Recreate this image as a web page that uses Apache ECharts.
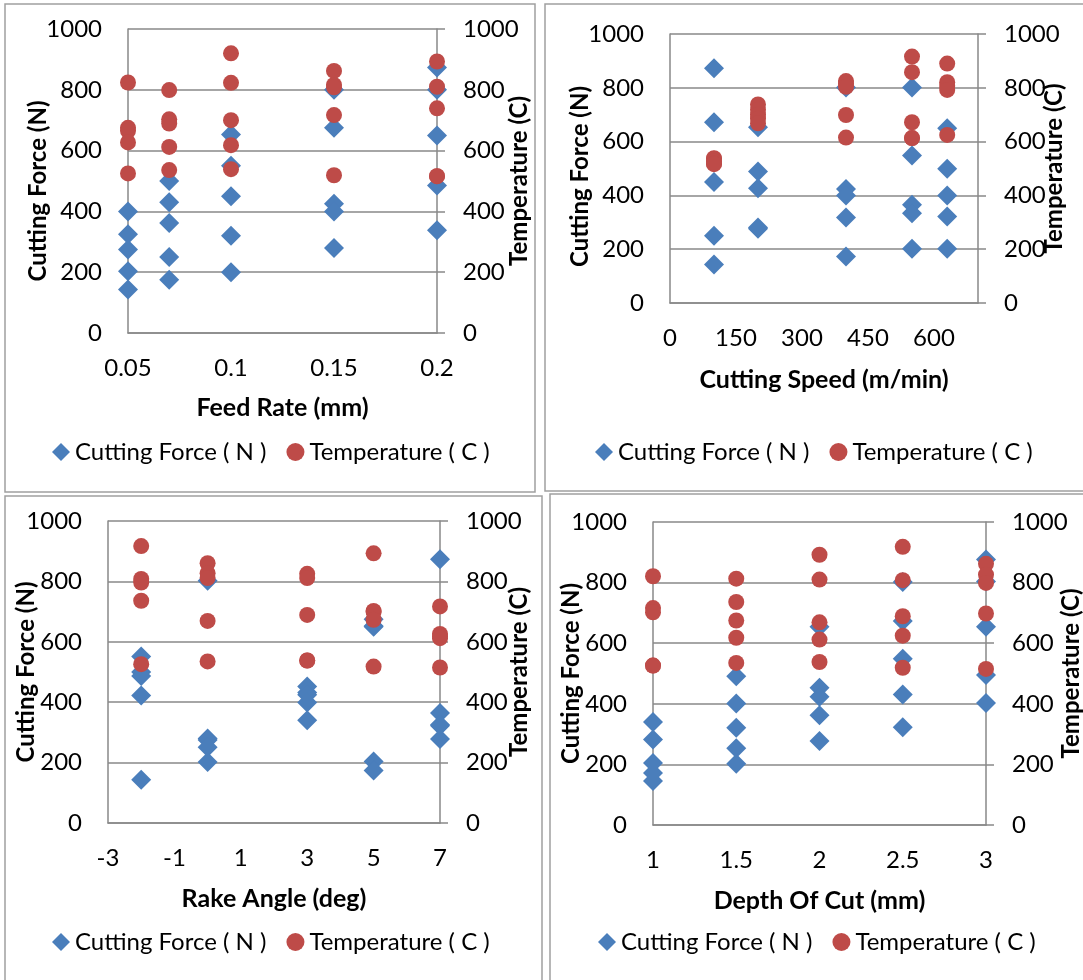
<!DOCTYPE html>
<html>
<head>
<meta charset="utf-8">
<script src="https://cdn.jsdelivr.net/npm/echarts@6.0.0/dist/echarts.min.js"></script>
<style>
  html, body { margin: 0; padding: 0; background: #fff; }
  #chart { width: 1083px; height: 980px; }
</style>
</head>
<body>
<div id="chart"></div>
<script>
// y axis range shared by all panels: [min, max, interval]
const yRange = [0, 1000, 200];

// panel 1: feed rate
const feedRate = [0.05, 0.07, 0.1, 0.15, 0.2];
const feedForce = [[400, 325, 275, 203, 143], [500, 430, 362, 250, 175], [653, 550, 450, 320, 200], [800, 675, 425, 400, 280], [873, 800, 650, 485, 338]];
const feedTemp = [[824, 675, 665, 627, 525], [799, 703, 689, 612, 536], [920, 823, 700, 618, 539], [862, 816, 808, 717, 519], [893, 810, 739, 516, 516]];

// panel 2: cutting speed
const cutSpeed = [100, 200, 400, 550, 630];
const speedForce = [[873, 672, 450, 250, 143], [653, 489, 427, 281, 276], [801, 424, 400, 318, 173], [801, 548, 365, 334, 202], [650, 499, 400, 322, 202]];
const speedTemp = [[538, 536, 526, 519, 516], [738, 718, 700, 685, 668], [825, 815, 804, 699, 615], [916, 858, 672, 613, 613], [890, 821, 807, 792, 625]];

// panel 3: rake angle
const rakeAngle = [-2, 0, 3, 5, 7];
const rakeForce = [[551, 500, 487, 422, 143], [802, 280, 275, 251, 202], [452, 432, 425, 399, 340], [675, 652, 650, 204, 174], [873, 364, 325, 322, 278]];
const rakeTemp = [[917, 808, 796, 736, 526], [860, 827, 811, 669, 535], [825, 811, 689, 538, 538], [893, 702, 699, 673, 518], [717, 626, 618, 612, 515]];

// panel 4: depth of cut
const depthOfCut = [1, 1.5, 2, 2.5, 3];
const depthForce = [[340, 282, 205, 172, 145], [491, 401, 321, 253, 202], [654, 453, 423, 362, 277], [802, 673, 549, 431, 323], [876, 804, 654, 495, 403]];
const depthTemp = [[821, 716, 702, 526, 526], [813, 736, 675, 618, 535], [892, 810, 669, 612, 538], [918, 808, 689, 625, 519], [862, 826, 799, 698, 515]];

// x axis tick labels shown on each panel
const feedTicks = [0.05, 0.1, 0.15, 0.2];
const speedTicks = [0, 150, 300, 450, 600];
const rakeTicks = [-3, -1, 1, 3, 5, 7];
const depthTicks = [1, 1.5, 2, 2.5, 3];

const forceName = "Cutting Force ( N )";
const tempName = "Temperature ( C )";
const gray = "#898989";
const font = "Lato";

function pairs(levels, values) {
  let out = [];
  levels.forEach((x, i) => {
    values[i].forEach(v => out.push([x, v]));
  });
  return out;
}

const panels = [
  { grid: { left: 128, top: 29, width: 309, height: 304 }, xName: "Feed Rate (mm)",
    xMin: 0.05, xMax: 0.2, xInt: 0.05, ticks: feedTicks, xGap: 62,
    levels: feedRate, force: feedForce, temp: feedTemp,
    gapL: 78, gapR: 70, padL: [0, 20, 0, 0], legend: { left: 52, top: 440 } },
  { grid: { left: 670, top: 34, width: 308, height: 269 }, xName: "Cutting Speed (m/min)",
    xMin: 0, xMax: 700, xInt: 50, ticks: speedTicks, xGap: 64,
    levels: cutSpeed, force: speedForce, temp: speedTemp,
    gapL: 78, gapR: 64, padL: [0, 16, 0, 0], legend: { left: 595, top: 440 } },
  { grid: { left: 108, top: 521, width: 332, height: 302 }, xName: "Rake Angle (deg)",
    xMin: -3, xMax: 7, xInt: 1, ticks: rakeTicks, xGap: 63,
    levels: rakeAngle, force: rakeForce, temp: rakeTemp,
    gapL: 70, gapR: 67, padL: 0, legend: { left: 52, top: 930 } },
  { grid: { left: 653, top: 522, width: 333, height: 303 }, xName: "Depth Of Cut (mm)",
    xMin: 1, xMax: 3, xInt: 0.5, ticks: depthTicks, xGap: 63,
    levels: depthOfCut, force: depthForce, temp: depthTemp,
    gapL: 70, gapR: 73, padL: 0, legend: { left: 598, top: 930 } }
];

let grids = [], xAxes = [], yAxes = [], series = [], legends = [];

panels.forEach((p, i) => {
  grids.push(Object.assign({ outerBoundsMode: "none" }, p.grid));
  xAxes.push({
    type: "value",
    gridIndex: i,
    min: p.xMin,
    max: p.xMax,
    interval: p.xInt,
    name: p.xName,
    nameLocation: "middle",
    nameGap: p.xGap,
    nameMoveOverlap: false,
    nameTextStyle: { fontFamily: font, fontSize: 25, fontWeight: "bold", color: "#000" },
    axisLine: { show: true, onZero: false, lineStyle: { color: gray, width: 1.5 } },
    axisTick: { show: false },
    splitLine: { show: false },
    axisLabel: {
      margin: 23,
      fontFamily: font,
      fontSize: 24,
      color: "#000",
      formatter: v => {
        let hit = p.ticks.find(t => Math.abs(t - v) < 1e-9);
        return hit === undefined ? "" : String(hit);
      }
    }
  });
  yAxes.push({
    type: "value",
    gridIndex: i,
    position: "left",
    min: yRange[0],
    max: yRange[1],
    interval: yRange[2],
    name: "Cutting Force (N)",
    nameLocation: "middle",
    nameGap: p.gapL,
    nameMoveOverlap: false,
    nameTextStyle: { fontFamily: font, fontSize: 24, fontWeight: "bold", color: "#000", padding: p.padL },
    axisLine: { show: true, onZero: false, lineStyle: { color: gray, width: 1.5 } },
    axisTick: { show: false },
    splitLine: { show: true, lineStyle: { color: gray, width: 1.5 } },
    axisLabel: { margin: 26, fontFamily: font, fontSize: 24, color: "#000", formatter: v => String(v) }
  });
  yAxes.push({
    type: "value",
    gridIndex: i,
    position: "right",
    min: yRange[0],
    max: yRange[1],
    interval: yRange[2],
    name: "Temperature (C)",
    nameLocation: "middle",
    nameGap: p.gapR,
    nameMoveOverlap: false,
    nameTextStyle: { fontFamily: font, fontSize: 24, fontWeight: "bold", color: "#000" },
    axisLine: { show: true, onZero: false, lineStyle: { color: gray, width: 1.5 } },
    axisTick: { show: true, length: 8, lineStyle: { color: gray, width: 1.5 } },
    splitLine: { show: false },
    axisLabel: { margin: 26, fontFamily: font, fontSize: 24, color: "#000", formatter: v => String(v) }
  });
  series.push({
    name: forceName,
    type: "scatter",
    xAxisIndex: i,
    yAxisIndex: i * 2,
    symbol: "diamond",
    symbolSize: 20,
    itemStyle: { color: "#4A7EBB", opacity: 1 },
    data: pairs(p.levels, p.force)
  });
  series.push({
    name: tempName,
    type: "scatter",
    xAxisIndex: i,
    yAxisIndex: i * 2 + 1,
    symbol: "circle",
    symbolSize: 16,
    itemStyle: { color: "#BE4B48", opacity: 1 },
    data: pairs(p.levels, p.temp)
  });
  legends.push({
    left: p.legend.left,
    top: p.legend.top,
    padding: 0,
    orient: "horizontal",
    itemWidth: 18,
    itemHeight: 18,
    itemGap: 20,
    selectedMode: false,
    textStyle: { fontFamily: font, fontSize: 24, color: "#000" },
    data: [{ name: forceName, icon: "diamond" }, { name: tempName, icon: "circle" }]
  });
});

const border = { fill: "none", stroke: "#a0a0a0", lineWidth: 1.5 };
const boxes = [
  { x: 5, y: 4, width: 530, height: 488 },
  { x: 545, y: 4, width: 545, height: 487 },
  { x: 5, y: 496, width: 537, height: 500 },
  { x: 550, y: 494, width: 550, height: 500 }
];

let chart = echarts.init(document.getElementById("chart"));
chart.setOption({
  animation: false,
  backgroundColor: "#fff",
  graphic: boxes.map(b => ({ type: "rect", shape: b, style: border, silent: true })),
  grid: grids,
  xAxis: xAxes,
  yAxis: yAxes,
  legend: legends,
  series: series
});
</script>
</body>
</html>
